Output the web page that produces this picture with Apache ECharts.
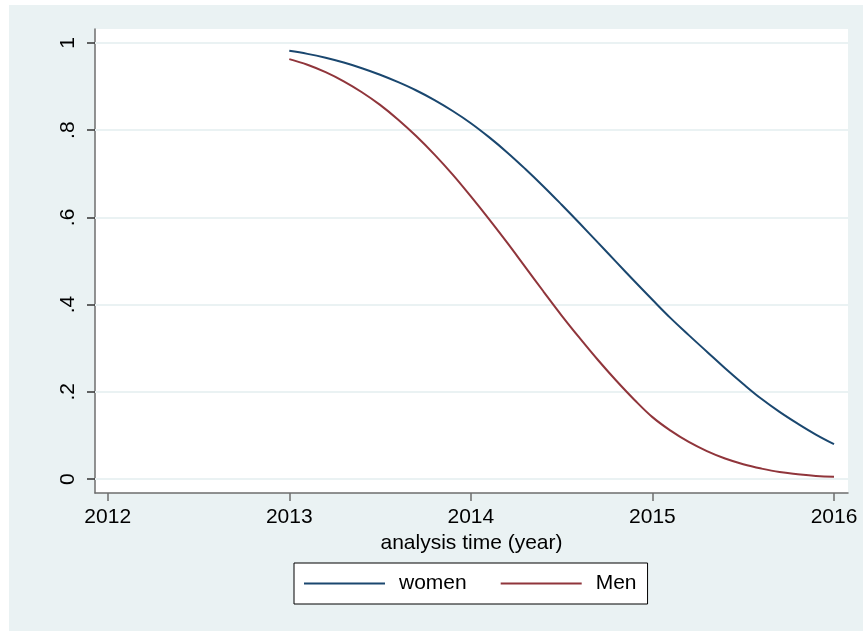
<!DOCTYPE html>
<html>
<head>
<meta charset="utf-8">
<script src="https://cdn.jsdelivr.net/npm/echarts@6/dist/echarts.min.js"></script>
<style>
  html, body { margin: 0; padding: 0; background: #fff; }
  #chart { position: absolute; left: 9px; top: 5px; width: 854px; height: 626px; background: #eaf2f3; }
</style>
</head>
<body>
<div id="chart"></div>
<script>
  // analysis time, one point each 0.1 year
  var times = [2013.0, 2013.1, 2013.2, 2013.3, 2013.4, 2013.5, 2013.6, 2013.7, 2013.8, 2013.9,
    2014.0, 2014.1, 2014.2, 2014.3, 2014.4, 2014.5, 2014.6, 2014.7, 2014.8, 2014.9,
    2015.0, 2015.1, 2015.2, 2015.3, 2015.4, 2015.5, 2015.6, 2015.7, 2015.8, 2015.9, 2016.0];
  var women = [0.982, 0.975, 0.966, 0.955, 0.942, 0.927, 0.910, 0.891, 0.869, 0.844,
    0.816, 0.784, 0.749, 0.711, 0.671, 0.629, 0.586, 0.542, 0.498, 0.454,
    0.411, 0.369, 0.330, 0.292, 0.254, 0.218, 0.184, 0.154, 0.127, 0.102, 0.080];
  var men = [0.963, 0.950, 0.933, 0.912, 0.887, 0.858, 0.824, 0.786, 0.744, 0.698,
    0.648, 0.596, 0.542, 0.486, 0.430, 0.375, 0.323, 0.273, 0.226, 0.182,
    0.142, 0.111, 0.085, 0.064, 0.047, 0.034, 0.024, 0.016, 0.011, 0.007, 0.005];
  var xTicks = [2012, 2013, 2014, 2015, 2016];
  var yTicks = [0, 0.2, 0.4, 0.6, 0.8, 1];
  var yTickLabels = ['0', '.2', '.4', '.6', '.8', '1'];

  var font = '"Liberation Sans", Arial, sans-serif';

  function pairs(ys) {
    return times.map(function (t, i) { return [t, ys[i]]; });
  }

  var chart = echarts.init(document.getElementById('chart'));
  var option = {
    animation: false,
    textStyle: { fontFamily: font },
    grid: {
      left: 86, top: 24, right: 15, bottom: 138,
      show: true, backgroundColor: '#fff', borderWidth: 0
    },
    legend: {
      left: 285, top: 558,
      padding: [10, 11, 10, 10],
      backgroundColor: '#fff',
      borderColor: '#000',
      borderWidth: 1,
      borderRadius: 0,
      itemWidth: 81,
      itemHeight: 2,
      itemGap: 34,
      icon: 'rect',
      textStyle: { fontSize: 21, color: '#000', padding: [0, 0, 0, 9], fontFamily: font },
      data: ['women', 'Men']
    },
    xAxis: {
      type: 'value',
      min: 2011.93, max: 2016.077,
      name: 'analysis time (year)',
      nameLocation: 'middle',
      nameGap: 38,
      nameTextStyle: { fontSize: 21, color: '#000', fontFamily: font },
      axisLine: { onZero: false, lineStyle: { color: '#6e6e6e', width: 1.5 } },
      axisTick: { show: true, length: 8, lineStyle: { color: '#6e6e6e', width: 1.5 }, customValues: xTicks },
      axisLabel: { fontSize: 21, color: '#000', margin: 14, customValues: xTicks,
        formatter: function (v) { return String(Math.round(v)); } },
      splitLine: { show: false }
    },
    yAxis: {
      type: 'value',
      min: -0.032, max: 1.032,
      axisLine: { show: true, onZero: false, lineStyle: { color: '#6e6e6e', width: 1.5 } },
      axisTick: { show: true, length: 8, lineStyle: { color: '#333', width: 1.5 }, customValues: yTicks },
      axisLabel: { fontSize: 21, color: '#000', margin: 16, rotate: 90, customValues: yTicks,
        formatter: function (v) {
          var i = yTicks.findIndex(function (t) { return Math.abs(t - v) < 1e-6; });
          return i >= 0 ? yTickLabels[i] : '';
        } },
      splitLine: { show: false }
    },
    series: [
      {
        name: 'women', type: 'line', data: pairs(women), smooth: 0.4,
        showSymbol: false, symbol: 'none',
        lineStyle: { color: '#1a476f', width: 2 }, itemStyle: { color: '#1a476f' },
        markLine: {
          silent: true, symbol: 'none', label: { show: false }, z: 1,
          lineStyle: { color: '#eaf2f3', width: 2, type: 'solid' },
          data: yTicks.map(function (v) { return { yAxis: v }; })
        },
        z: 3
      },
      {
        name: 'Men', type: 'line', data: pairs(men), smooth: 0.4,
        showSymbol: false, symbol: 'none',
        lineStyle: { color: '#90353b', width: 2 }, itemStyle: { color: '#90353b' },
        z: 3
      }
    ]
  };
  chart.setOption(option);
</script>
</body>
</html>
